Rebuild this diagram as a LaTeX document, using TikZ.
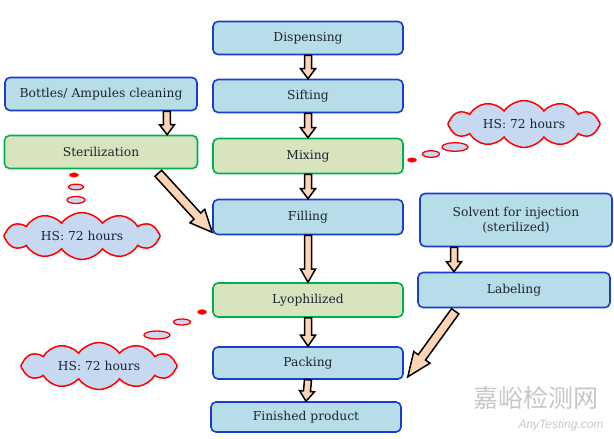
\documentclass[tikz,border=0pt]{standalone}
\usepackage{fontspec}
\setmainfont{DejaVu Serif}
\newfontfamily\cjkwm{Noto Sans CJK SC}
\newfontfamily\wmsans{Liberation Sans}
\usetikzlibrary{calc,shapes.symbols}
\definecolor{bfill}{HTML}{B7DEE8}
\definecolor{bline}{HTML}{1A3CCF}
\definecolor{gfill}{HTML}{D7E4BD}
\definecolor{gline}{HTML}{00B050}
\definecolor{cfill}{HTML}{C6D9F1}
\definecolor{peach}{HTML}{FBD5B5}
\definecolor{txt}{HTML}{1E2430}
\tikzset{
  box/.style={rectangle, rounded corners=5pt, line width=1.6pt, minimum width=190pt,
    minimum height=33pt, inner sep=2pt, align=center, text=txt,
    font=\fontsize{12.3}{15}\selectfont},
  bluebox/.style={box, draw=bline, fill=bfill},
  greenbox/.style={box, draw=gline, fill=gfill},
  hscloud/.style={cloud, cloud puffs=12, cloud puff arc=110, aspect=3.6, draw=red,
    fill=cfill, line width=1.5pt, minimum width=152pt, minimum height=44pt, inner sep=0pt,
    text=txt, font=\fontsize{12.3}{15}\selectfont},
  bubble/.style={draw=red, fill=cfill, line width=1.3pt},
  bdot/.style={fill=red, draw=red},
  barrow/.style={draw=black, fill=peach, line width=1.5pt, line join=miter}
}
\newcommand{\blockarr}[5]{%
  \coordinate (bA) at (#1); \coordinate (bB) at (#2);
  \coordinate (bC) at ($(bB)!#5!(bA)$);
  \filldraw[barrow] ($(bA)!#3!90:(bB)$) -- ($(bC)!#3!90:(bB)$) -- ($(bC)!#4!90:(bB)$)
    -- (bB) -- ($(bC)!#4!-90:(bB)$) -- ($(bC)!#3!-90:(bB)$) -- ($(bA)!#3!-90:(bB)$) -- cycle;}
\begin{document}
\begin{tikzpicture}[x=1pt,y=-1pt]
\useasboundingbox (0,0) rectangle (614,439);
% main column
\node[bluebox] (disp) at (308,38) {Dispensing};
\node[bluebox] (sift) at (308,96) {Sifting};
\node[greenbox, minimum height=35pt] (mix) at (308,156) {Mixing};
\node[bluebox, minimum height=35pt] (fill) at (308,217) {Filling};
\node[greenbox, minimum height=34pt] (lyo) at (308,300) {Lyophilized};
\node[bluebox, minimum height=32pt] (pack) at (308,363) {Packing};
\node[bluebox, minimum height=30pt] (fin) at (306,417) {Finished product};
% left column
\node[bluebox, minimum width=192pt] (bott) at (101,94) {Bottles/ Ampules cleaning};
\node[greenbox, minimum width=193pt] (ster) at (101,152) {Sterilization};
% right column
\node[bluebox, minimum width=192pt, minimum height=53pt] (solv) at (516,220) {Solvent for injection\\(sterilized)};
\node[bluebox, minimum width=192pt, minimum height=35pt] (lab) at (514,290) {Labeling};
% clouds
\node[hscloud] (c1) at (524,124) {HS: 72 hours};
\node[hscloud, minimum width=156pt] (c2) at (82,236) {HS: 72 hours};
\node[hscloud, minimum width=156pt] (c3) at (99,366) {HS: 72 hours};
% thought bubbles
\fill[bdot] (412,160) ellipse (4.5pt and 2.2pt);
\draw[bubble] (431,154) ellipse (8.5pt and 3.3pt);
\draw[bubble] (455,147) ellipse (13pt and 4.3pt);
\fill[bdot] (74,175) ellipse (4.5pt and 2.2pt);
\draw[bubble] (76,187) ellipse (7.5pt and 2.8pt);
\draw[bubble] (76,200) ellipse (9pt and 3.5pt);
\fill[bdot] (202,312) ellipse (4.5pt and 2.4pt);
\draw[bubble] (182,322) ellipse (8.5pt and 3pt);
\draw[bubble] (157,335) ellipse (13pt and 4pt);
% arrows
\blockarr{disp.south}{sift.north}{3.5pt}{7.5pt}{10pt}
\blockarr{sift.south}{mix.north}{3.5pt}{7.5pt}{10pt}
\blockarr{mix.south}{fill.north}{3.5pt}{7.5pt}{10pt}
\blockarr{fill.south}{lyo.north}{3.5pt}{7.5pt}{13pt}
\blockarr{lyo.south}{pack.north}{3.5pt}{7.5pt}{11pt}
\blockarr{pack.south}{fin.north}{3.5pt}{7.5pt}{10pt}
\coordinate (b1) at ($(bott.south west)!0.84!(bott.south east)$);
\coordinate (s1) at ($(ster.north west)!0.84!(ster.north east)$);
\blockarr{b1}{s1}{3.5pt}{7.5pt}{10pt}
\coordinate (v1) at ($(solv.south west)!0.18!(solv.south east)$);
\coordinate (l1) at ($(lab.north west)!0.19!(lab.north east)$);
\blockarr{v1}{l1}{3.5pt}{7.5pt}{10pt}
\coordinate (st1) at ($(ster.south east)+(-40,4)$);
\coordinate (f1) at ($(fill.south west)+(0,-3)$);
\blockarr{st1}{f1}{4.5pt}{10pt}{22pt}
\coordinate (lb1) at ($(lab.south west)+(38,3)$);
\coordinate (p1) at ($(pack.south east)+(4,-3)$);
\blockarr{lb1}{p1}{4.5pt}{10pt}{24pt}
% watermark
\node[text=black!22, font=\cjkwm\fontsize{25}{27}\selectfont, inner sep=0pt] (wm1) at (536,398) {嘉峪检测网};
\node[text=black!22, font=\wmsans\itshape\fontsize{12}{14}\selectfont, inner sep=0pt] (wm2) at (561,425) {AnyTesting.com};
\end{tikzpicture}
\end{document}
